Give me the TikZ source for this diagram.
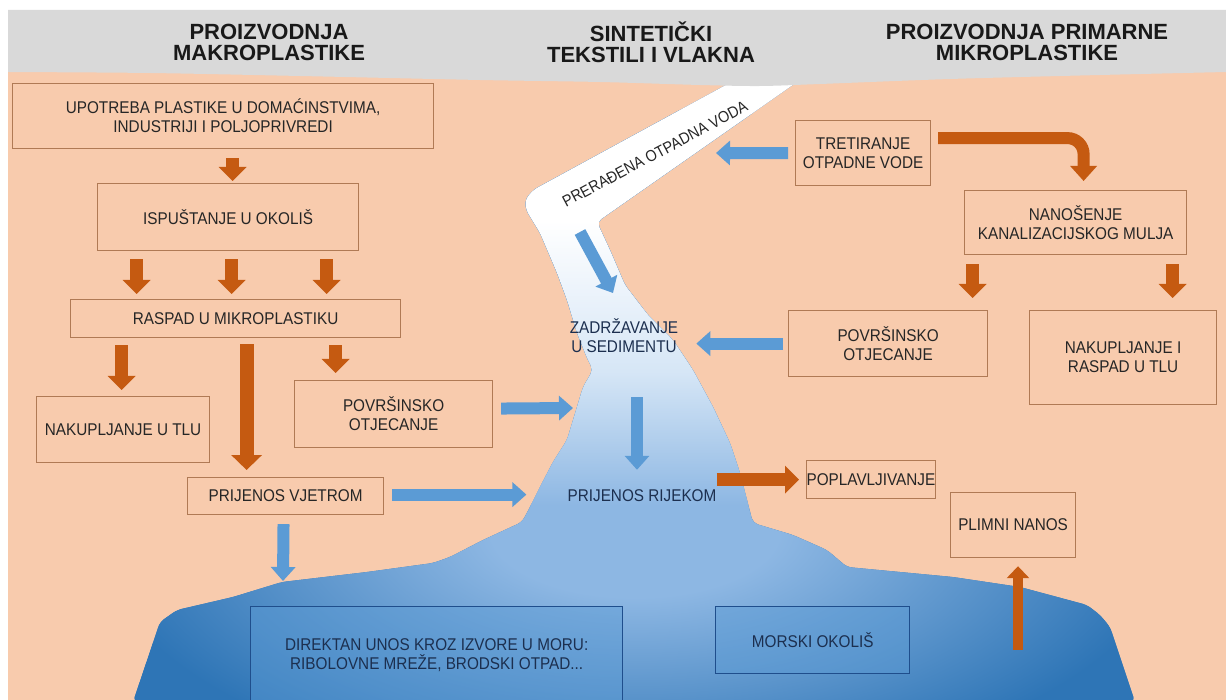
\documentclass[tikz,border=0pt]{standalone}
\usepackage{fontspec}
\setmainfont{Liberation Sans}
\newfontfamily\boxfont[FakeStretch=0.9]{Liberation Sans}
\usetikzlibrary{arrows.meta,calc}
\definecolor{peach}{HTML}{F8CBAD}
\definecolor{hdr}{HTML}{D9D9D9}
\definecolor{boxline}{HTML}{B07A55}
\definecolor{orng}{HTML}{C55A11}
\definecolor{bluearr}{HTML}{5B9BD5}
\definecolor{seaDark}{HTML}{2E75B6}
\definecolor{seaLight}{HTML}{8DB7E3}
\definecolor{riverMid}{HTML}{D6E6F6}
\definecolor{txt}{HTML}{262626}
\definecolor{navy}{HTML}{1C2F4F}
\definecolor{seaBox}{HTML}{1F4E8C}
\pgfdeclareverticalshading{rivershade}{100bp}{color(0bp)=(seaLight); color(25bp)=(seaLight); color(40bp)=(riverMid); color(57bp)=(white); color(100bp)=(white)}
\pgfdeclareradialshading{seaspot}{\pgfpoint{0bp}{0bp}}{color(0bp)=(seaLight); color(4bp)=(seaLight); color(15bp)=(seaDark); color(50bp)=(seaDark)}
\begin{document}
\begin{tikzpicture}[x=1pt,y=-1pt,
  pbox/.style={draw=boxline, line width=1.2pt, anchor=north west, inner sep=0pt, align=center, text=txt, font=\boxfont\fontsize{17}{19}\selectfont},
  sbox/.style={draw=seaBox, line width=1.4pt, anchor=north west, inner sep=0pt, align=center, text=navy, fill=bluearr, fill opacity=0.45, text opacity=1, font=\boxfont\fontsize{17}{19}\selectfont},
  ttl/.style={align=center, inner sep=0pt, text=black!90, font=\fontsize{22}{21.5}\selectfont\bfseries},
  rtxt/.style={align=center, inner sep=0pt, text=navy, font=\boxfont\fontsize{17}{19}\selectfont},
  oarr/.style={draw=orng, line width=13pt, arrows={-Triangle[width=27pt,length=14pt]}},
  barr/.style={draw=bluearr, line width=12pt, arrows={-Triangle[width=24pt,length=14pt]}}]
\useasboundingbox (0,0) rectangle (1226,700);
\fill[white] (0,0) rectangle (1226,700);
\fill[peach] (8,10) rectangle (1226,700);
% water: river and sea
\begin{scope}
\clip[rounded corners=5pt] (735,80) -- (533,190) -- (525,200) -- (526,210) -- (540,233) -- (557,273) -- (567,300) -- (577,333) -- (587,358) -- (593,370) -- (583,387) -- (577,407) -- (567,440) -- (553,462) -- (540,487) -- (530,507) -- (522,522) -- (483,540) -- (450,557) -- (433,563) -- (367,572) -- (282,582) -- (233,597) -- (177,610) -- (160,622) -- (133,702) -- (1135,702) -- (1110,627) -- (1100,615) -- (1087,605) -- (1020,587) -- (953,577) -- (847,567) -- (827,550) -- (793,535) -- (753,523) -- (747,500) -- (740,473) -- (730,443) -- (713,407) -- (693,370) -- (673,340) -- (648,315) -- (625,285) -- (610,250) -- (597,222) -- (800,80) -- cycle;
\fill[seaDark] (100,60) rectangle (1200,705);
\shade[shading=seaspot] (635,530) ellipse (900 and 420);
\shade[shading=rivershade] (480,60) rectangle (840,505);
\end{scope}
% header band
\fill[hdr] (8,10) -- (1226,10) -- plot[smooth] coordinates {(1226,72) (1100,75) (950,79) (820,84) (760,86) (700,85) (600,82) (480,80) (300,76) (150,73) (8,72)} -- cycle;
% titles
\node[ttl] (t1) at (269,42.5) {PROIZVODNJA\\MAKROPLASTIKE};
\node[ttl] (t2) at (651,42.5) {SINTETIČKI\\TEKSTILI I VLAKNA};
\node[ttl] (t3) at (1027,42.5) {PROIZVODNJA PRIMARNE\\MIKROPLASTIKE};
% left column boxes
\node[pbox, minimum width=421pt, minimum height=65pt] (upo) at (12,83) {UPOTREBA PLASTIKE U DOMAĆINSTVIMA,\\INDUSTRIJI I POLJOPRIVREDI};
\node[pbox, minimum width=261pt, minimum height=67pt] (isp) at (97,183) {ISPUŠTANJE U OKOLIŠ};
\node[pbox, minimum width=330pt, minimum height=38pt] (ras) at (70,299) {RASPAD U MIKROPLASTIKU};
\node[pbox, minimum width=173pt, minimum height=66pt] (naktlu) at (36,396) {NAKUPLJANJE U TLU};
\node[pbox, minimum width=198pt, minimum height=67pt] (povL) at (294,380) {POVRŠINSKO\\OTJECANJE};
\node[pbox, minimum width=196pt, minimum height=37pt] (vje) at (187,477) {PRIJENOS VJETROM};
% right column boxes
\node[pbox, minimum width=135pt, minimum height=65pt] (tret) at (795,120) {TRETIRANJE\\OTPADNE VODE};
\node[pbox, minimum width=222pt, minimum height=64pt] (nan) at (964,190) {NANOŠENJE\\KANALIZACIJSKOG MULJA};
\node[pbox, minimum width=199pt, minimum height=66pt] (povR) at (788,310) {POVRŠINSKO\\OTJECANJE};
\node[pbox, minimum width=187pt, minimum height=94pt] (nakR) at (1029,310) {NAKUPLJANJE I\\RASPAD U TLU};
\node[pbox, minimum width=125pt, minimum height=38pt] (pop) at (806,460) {POPLAVLJIVANJE};
\node[pbox, minimum width=125pt, minimum height=65pt] (plim) at (950,492) {PLIMNI NANOS};
% sea boxes
\node[sbox, minimum width=372pt, minimum height=96pt] (dir) at (250,606) {DIREKTAN UNOS KROZ IZVORE U MORU:\\RIBOLOVNE MREŽE, BRODSKI OTPAD...};
\node[sbox, minimum width=194pt, minimum height=67pt] (mor) at (715,606) {MORSKI OKOLIŠ};
% river texts
\node[rotate=28, inner sep=0pt, text=txt, font=\boxfont\fontsize{16}{18}\selectfont] (proc) at (655,154) {PRERAĐENA OTPADNA VODA};
\node[rtxt, minimum height=40pt] (zad) at (624,336) {ZADRŽAVANJE\\U SEDIMENTU};
\node[rtxt, minimum height=20pt] (rij) at (642,496) {PRIJENOS RIJEKOM};
% free ends
\coordinate (rvL) at (573,408);
\coordinate (seaL) at (283,581);
\coordinate (strR) at (716,153);
\coordinate (stA) at (580,232);
\coordinate (stB) at (613,293);
\coordinate (seaR) at (1018,650);
% orange connectors (left)
\draw[oarr, shorten <=9pt, shorten >=2pt] ([xshift=9.5pt]upo.south) -- ([xshift=9.5pt]upo.south |- isp.north);
\foreach \dx in {-91.5,3.5,98.5}
  \draw[oarr, shorten <=8pt, shorten >=5pt] ([xshift=\dx pt]isp.south) -- ([xshift=\dx pt]isp.south |- ras.north);
\draw[oarr, shorten <=7pt, shorten >=6pt] ([xshift=-1.5pt]naktlu.north |- ras.south) -- ([xshift=-1.5pt]naktlu.north);
\draw[oarr, line width=14pt, arrows={-Triangle[width=30pt,length=15pt]}, shorten <=6pt, shorten >=7pt] ([xshift=11pt]ras.south) -- ([xshift=11pt]ras.south |- vje.north);
\draw[oarr, shorten <=7pt, shorten >=7pt] ([xshift=100pt]ras.south) -- ([xshift=100pt]ras.south |- povL.north);
% blue connectors (left)
\draw[barr, shorten <=8pt] ([yshift=5.5pt]povL.east) -- (rvL);
\draw[barr, shorten <=8pt, shorten >=41pt] ([yshift=1.5pt]vje.east) -- ([yshift=1.5pt]vje.east -| rij.west);
\draw[barr, shorten <=9pt] ([xshift=-2pt]vje.south) -- (seaL);
% right side
\draw[barr, shorten <=7pt] (tret.west) -- (strR);
\draw[oarr, line width=12pt, arrows={-Triangle[width=26pt,length=15pt]}, rounded corners=16pt] ([xshift=7pt,yshift=15pt]tret.east) -- ([xshift=8pt,yshift=15pt]tret.east -| nan.north) -- ([xshift=8pt,yshift=9pt]nan.north);
\draw[oarr, shorten <=9pt, shorten >=12pt] ([xshift=-103pt]nan.south) -- ([xshift=-103pt]nan.south |- povR.north);
\draw[oarr, shorten <=9pt, shorten >=12pt] ([xshift=97pt]nan.south) -- ([xshift=97pt]nan.south |- nakR.north);
\draw[barr, shorten <=5pt, shorten >=18pt] (povR.west) -- (povR.west -| zad.east);
% river arrows
\draw[barr] (stA) -- (stB);
\draw[barr, shorten <=41pt, shorten >=16pt] ([xshift=13pt]zad.south) -- ([xshift=13pt]zad.south |- rij.north);
\draw[oarr, shorten >=7pt] (pop.west -| rij.east) -- (pop.west);
\draw[oarr, line width=10pt, arrows={-Triangle[width=22pt,length=12pt]}, shorten >=8pt] (seaR) -- (seaR |- plim.south);
\end{tikzpicture}
\end{document}
